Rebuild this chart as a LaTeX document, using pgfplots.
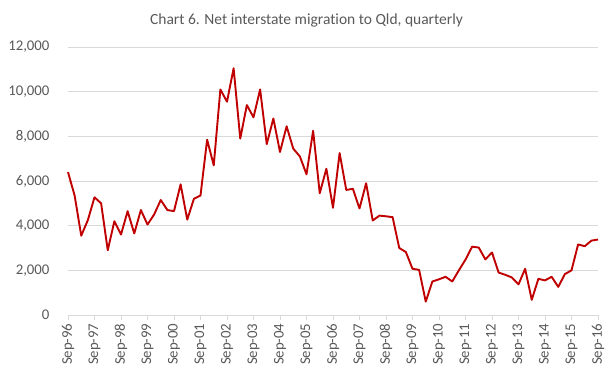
\documentclass[border=0pt]{standalone}
\usepackage{pgfplots}
\pgfplotsset{compat=1.18}
\usepackage{fontspec}
\setmainfont[Ligatures={NoCommon,NoRare,NoDiscretionary},Contextuals=NoAlternate]{Carlito}
\definecolor{txt}{HTML}{595959}
\definecolor{gridc}{HTML}{D9D9D9}
\definecolor{ser}{HTML}{C00000}
\begin{document}
\begin{tikzpicture}
\useasboundingbox (-68bp,-63bp) rectangle (545bp,315bp);
\begin{axis}[
  at={(0,0)}, anchor=south west, scale only axis,
  width=530bp, height=268bp,
  xmin=0, xmax=80, ymin=0, ymax=12000,
  xtick={0,4,...,80},
  xticklabels={Sep-96,Sep-97,Sep-98,Sep-99,Sep-00,Sep-01,Sep-02,Sep-03,Sep-04,Sep-05,Sep-06,Sep-07,Sep-08,Sep-09,Sep-10,Sep-11,Sep-12,Sep-13,Sep-14,Sep-15,Sep-16},
  ytick={0,2000,...,12000},
  axis x line*=bottom, axis y line*=left,
  x axis line style={draw=gridc, line width=0.75bp, -},
  y axis line style={draw=none},
  ymajorgrids, grid style={draw=gridc, line width=0.75bp},
  tick align=outside, major tick length=5bp,
  xtick style={draw=gridc, line width=0.75bp},
  ytick style={draw=none},
  tick label style={font=\fontsize{14.8bp}{17bp}\selectfont, text=txt},
  xticklabel style={rotate=90, anchor=east, xshift=0bp},
  yticklabel style={anchor=east, xshift=-10bp},
  /pgf/number format/assume math mode=true,
  /pgf/number format/1000 sep={,},
  scaled y ticks=false,
  clip=false,
]
\addplot[ser, line width=1.9bp, line join=round] table[x=q, y=v] {
q v
0 6400
1 5350
2 3550
3 4250
4 5270
5 5000
6 2900
7 4200
8 3600
9 4650
10 3650
11 4700
12 4050
13 4500
14 5150
15 4700
16 4650
17 5850
18 4270
19 5200
20 5350
21 7850
22 6700
23 10100
24 9550
25 11050
26 7900
27 9400
28 8850
29 10100
30 7650
31 8800
32 7300
33 8450
34 7450
35 7100
36 6300
37 8250
38 5450
39 6550
40 4800
41 7250
42 5600
43 5650
44 4770
45 5900
46 4230
47 4450
48 4420
49 4380
50 3000
51 2820
52 2070
53 2020
54 600
55 1500
56 1600
57 1710
58 1500
59 2000
60 2480
61 3060
62 3020
63 2490
64 2800
65 1900
66 1800
67 1680
68 1370
69 2070
70 680
71 1620
72 1550
73 1710
74 1260
75 1830
76 2000
77 3160
78 3080
79 3330
80 3380
};
\end{axis}
\node[anchor=base, text=txt, font=\fontsize{15.5bp}{18bp}\selectfont, inner sep=0pt] at (238.5bp,290bp) {Chart 6. Net interstate migrat\kern0pt ion to Qld, quarterly};
\end{tikzpicture}
\end{document}
